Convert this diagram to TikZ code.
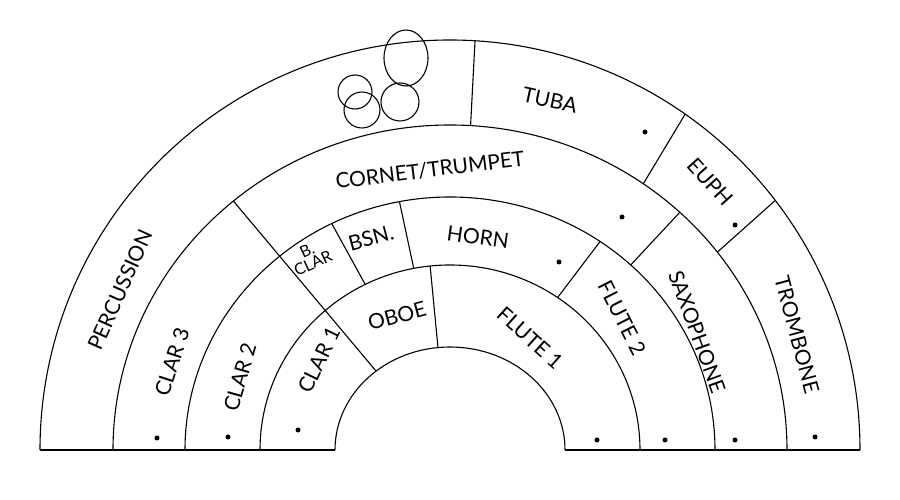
\documentclass[tikz,border=0pt]{standalone}
\usepackage{fontspec}
\setmainfont{Lato}
\usetikzlibrary{calc}
\begin{document}
\begin{tikzpicture}[x=1pt,y=1pt,line width=1.1pt,
 lab/.style={font=\fontsize{21}{21}\selectfont,inner sep=0pt,align=center},
 dot/.style={circle,fill=black,inner sep=0pt,minimum size=5pt}]
\useasboundingbox (0,0) rectangle (900,500);
\coordinate (c) at (450,50);
% arcs
\draw (40,50) arc[start angle=180,end angle=0,x radius=410,y radius=410];
\draw (113,50) arc[start angle=180,end angle=0,x radius=337,y radius=325];
\draw (185,50) arc[start angle=180,end angle=0,x radius=265,y radius=253];
\draw (260,50) arc[start angle=180,end angle=0,x radius=190,y radius=185];
\draw (335,50) arc[start angle=180,end angle=0,x radius=115,y radius=103];
\draw (40,50) -- (335,50);
\draw (565,50) -- (860,50);
% dividers
\draw ($(c)+(130:115 and 103)$) -- ($(c)+(130:337 and 325)$);
\draw ($(c)+(116.5:190 and 185)$) -- ($(c)+(116.5:265 and 253)$);
\draw ($(c)+(101:190 and 185)$) -- ($(c)+(101:265 and 253)$);
\draw ($(c)+(96:115 and 103)$) -- ($(c)+(96:190 and 185)$);
\draw ($(c)+(55.5:190 and 185)$) -- ($(c)+(55.5:265 and 253)$);
\draw ($(c)+(47:265 and 253)$) -- ($(c)+(47:337 and 325)$);
\draw ($(c)+(86.5:337 and 325)$) -- ($(c)+(86.5:410 and 410)$);
\draw ($(c)+(55:337 and 325)$) -- ($(c)+(55:410 and 410)$);
\draw ($(c)+(37.5:337 and 325)$) -- ($(c)+(37.5:410 and 410)$);
% timpani
\draw (406,442) ellipse[x radius=22,y radius=28];
\draw (355,408) circle[radius=17];
\draw (362,390) circle[radius=18];
\draw (400,398) circle[radius=19];
% labels
\node[lab,rotate=66] (perc) at (120,210) {PERCUSSION};
\node[lab,rotate=72] (c3) at (172,138) {CLAR 3};
\node[lab,rotate=74] (c2) at (240,123) {CLAR 2};
\node[lab,rotate=64] (c1) at (319,140) {CLAR 1};
\node[lab,rotate=15] (oboe) at (397,184) {OBOE};
\node[lab,rotate=-42] (f1) at (530,162) {FLUTE 1};
\node[lab,rotate=25,font=\fontsize{16}{14}\selectfont] (bc) at (310,243) {B.\\CLAR};
\node[lab,rotate=15] (bsn) at (371,262) {BSN.};
\node[lab,rotate=-8] (horn) at (478,263) {HORN};
\node[lab,rotate=-63] (f2) at (622,182) {FLUTE 2};
\node[lab,rotate=7] (cor) at (430,330) {CORNET/TRUMPET};
\node[lab,rotate=-70] (sax) at (697,168) {SAXOPHONE};
\node[lab,rotate=-12] (tuba) at (550,400) {TUBA};
\node[lab,rotate=-48] (euph) at (710,318) {EUPH};
\node[lab,rotate=-75] (trom) at (797,165) {TROMBONE};
% dots
\node[dot] (d1) at (157,62) {};
\node[dot] (d2) at (228,63) {};
\node[dot] (d3) at (298,70) {};
\node[dot] (d4) at (597,60) {};
\node[dot] (d5) at (665,60) {};
\node[dot] (d6) at (735,60) {};
\node[dot] (d7) at (815,63) {};
\node[dot] (d8) at (645,368) {};
\node[dot] (d9) at (622,283) {};
\node[dot] (d10) at (559,238) {};
\node[dot] (d11) at (735,275) {};
\end{tikzpicture}
\end{document}
